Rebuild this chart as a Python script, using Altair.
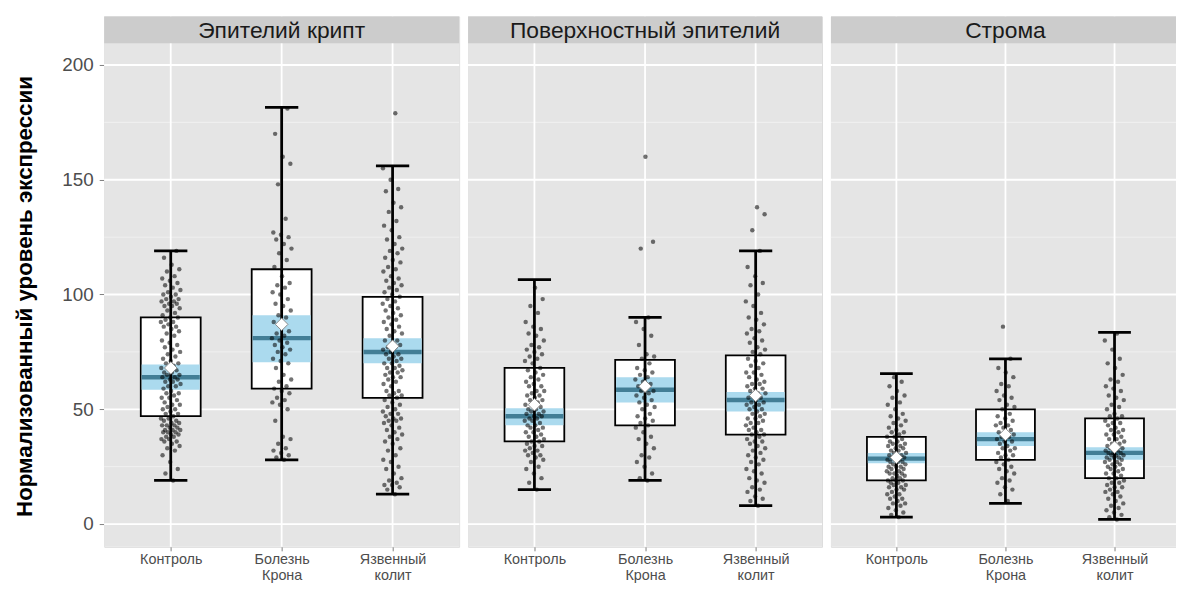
import altair as alt
import pandas as pd

PANELS = ["Эпителий крипт", "Поверхностный эпителий", "Строма"]
GROUPS = ["Контроль", "Болезнь\nКрона", "Язвенный\nколит"]
Y_TITLE = "Нормализованный уровень экспрессии"
Y_MAJOR = [0, 50, 100, 150, 200]
Y_MINOR = [25, 75, 125, 175]
X_POS = [1, 2, 3]

# box statistics per panel (order of GROUPS)
WHISK_LO = [[19, 28, 13], [15, 19, 8], [3, 9, 2]]
Q1 = [[47, 59, 55], [36, 43, 39], [19, 28, 20]]
MEDIAN = [[64, 81, 75], [47, 58.5, 54], [28.5, 37, 31]]
Q3 = [[90, 111, 99], [68, 71.5, 73.5], [38, 50, 46]]
WHISK_HI = [[119, 181.5, 156], [106.5, 90, 119], [65.5, 72, 83.5]]
CI_LO = [[58.5, 70.5, 70], [43, 53, 49], [26.5, 34, 28]]
CI_HI = [[69.5, 91, 81], [50.5, 64, 57.5], [31, 40, 33.5]]
MEAN = [[68, 87, 77.5], [52, 60, 56], [29, 39, 33.5]]

CRYPT_CTRL = [19, 22, 24, 27, 30, 32, 33, 34, 35, 36, 36, 37, 37, 38, 38, 39, 39, 40, 40, 40, 41, 41, 41,
              42, 42, 43, 43, 43, 44, 44, 45, 45, 46, 46, 47, 48, 48, 49, 50, 50, 51, 52, 52, 53, 54, 55,
              55, 56, 57, 57, 58, 59, 60, 60, 61, 62, 62, 63, 63, 64, 64, 65, 65, 66, 66, 67, 68, 68, 69,
              70, 70, 71, 72, 73, 74, 75, 76, 77, 78, 79, 80, 82, 83, 84, 85, 86, 86, 87, 88, 88, 89, 90,
              90, 91, 92, 93, 94, 95, 95, 96, 96, 97, 97, 98, 98, 99, 100, 100, 101, 102, 103, 104, 105,
              106, 107, 108, 110, 111, 113, 116, 119]
CRYPT_CROHN = [28, 29, 30, 31, 32, 33, 35, 37, 38, 45, 50, 52, 53, 54, 55, 57, 58, 59, 60, 62, 63, 65, 68,
               70, 71, 72, 74, 75, 76, 77, 78, 79, 80, 81, 82, 83, 84, 86, 88, 90, 91, 93, 95, 96, 98, 100,
               101, 103, 104, 105, 108, 112, 115, 118, 120, 122, 124, 125, 126, 127, 133, 148, 157, 160,
               170, 181]
CRYPT_UC = [13, 15, 16, 17, 17, 18, 19, 20, 22, 24, 25, 27, 28, 30, 32, 33, 35, 36, 37, 38, 39, 40, 41,
            42, 43, 44, 45, 45, 46, 46, 47, 48, 48, 49, 50, 51, 52, 53, 54, 55, 56, 56, 57, 58, 58, 60, 61,
            62, 63, 64, 64, 65, 66, 66, 67, 68, 68, 69, 70, 70, 71, 72, 72, 73, 74, 74, 75, 76, 77, 77, 78,
            79, 80, 80, 82, 83, 84, 85, 86, 87, 88, 89, 90, 91, 92, 93, 94, 95, 96, 97, 98, 99, 100, 101,
            102, 103, 104, 105, 106, 107, 108, 110, 111, 112, 114, 115, 116, 118, 119, 120, 122, 124, 125,
            128, 130, 132, 136, 138, 140, 145, 146, 150, 155, 179]
SURF_CTRL = [15, 18, 20, 22, 24, 25, 27, 28, 29, 30, 30, 31, 32, 32, 33, 34, 34, 35, 36, 36, 37, 38, 38,
             39, 40, 40, 41, 42, 42, 43, 43, 44, 45, 45, 46, 46, 47, 47, 48, 48, 49, 49, 50, 50, 51, 52, 52,
             53, 54, 54, 55, 56, 56, 57, 58, 58, 60, 60, 61, 62, 63, 64, 65, 66, 67, 68, 70, 71, 72, 73, 74,
             75, 76, 77, 78, 80, 82, 83, 85, 86, 88, 92, 95, 98, 103]
SURF_CROHN = [19, 20, 22, 25, 27, 29, 30, 33, 35, 37, 38, 40, 42, 43, 44, 45, 46, 47, 48, 50, 51, 52, 53,
              54, 55, 56, 57, 58, 58, 59, 60, 61, 62, 63, 64, 65, 66, 67, 68, 70, 72, 73, 74, 78, 82, 85,
              88, 90, 120, 123, 160]
SURF_UC = [8, 10, 11, 12, 14, 15, 16, 18, 19, 20, 22, 23, 24, 26, 27, 28, 29, 30, 31, 32, 33, 34, 35, 36,
           36, 37, 38, 39, 39, 40, 41, 41, 42, 43, 44, 44, 45, 46, 46, 47, 48, 48, 49, 50, 50, 51, 52, 52,
           53, 53, 54, 55, 55, 56, 57, 57, 58, 59, 59, 60, 61, 61, 62, 63, 64, 65, 66, 66, 68, 69, 70, 71,
           72, 74, 75, 76, 77, 79, 80, 81, 83, 84, 85, 87, 89, 90, 92, 95, 97, 100, 104, 105, 108, 112,
           119, 128, 135, 138]
STR_CTRL = [3, 4, 5, 6, 7, 8, 9, 9, 10, 11, 11, 12, 13, 13, 14, 15, 15, 16, 16, 17, 17, 18, 18, 19, 19,
            19, 20, 20, 21, 21, 22, 22, 22, 23, 23, 24, 24, 25, 25, 25, 26, 26, 27, 27, 27, 28, 28, 28, 29,
            29, 30, 30, 30, 31, 31, 32, 32, 33, 33, 34, 34, 35, 35, 36, 36, 37, 38, 38, 39, 40, 40, 41, 42,
            43, 44, 45, 46, 47, 48, 50, 52, 53, 55, 56, 58, 60, 62, 64]
STR_CROHN = [10, 13, 15, 16, 18, 19, 20, 22, 23, 24, 25, 26, 27, 28, 29, 30, 30, 31, 32, 33, 33, 34, 35,
             36, 36, 37, 38, 38, 39, 40, 40, 41, 42, 43, 43, 44, 45, 46, 47, 48, 50, 51, 52, 54, 55, 56,
             58, 60, 61, 64, 66, 68, 72, 86]
STR_UC = [2, 3, 4, 5, 6, 7, 8, 9, 10, 11, 12, 13, 14, 14, 15, 16, 16, 17, 18, 18, 19, 20, 20, 21, 22, 22,
          23, 24, 24, 25, 25, 26, 26, 27, 27, 28, 28, 29, 29, 29, 30, 30, 30, 31, 31, 31, 32, 32, 33, 33,
          34, 34, 35, 35, 36, 37, 37, 38, 39, 39, 40, 41, 41, 42, 43, 44, 44, 45, 46, 47, 47, 48, 50, 51,
          52, 54, 55, 56, 58, 59, 60, 62, 63, 65, 68, 70, 72, 76, 80, 83]
PTS = [[CRYPT_CTRL, CRYPT_CROHN, CRYPT_UC],
       [SURF_CTRL, SURF_CROHN, SURF_UC],
       [STR_CTRL, STR_CROHN, STR_UC]]

FONT = "Liberation Sans"
PANEL_W = [358, 357, 352]
PANEL_H = 535
STRIP_H = 27

box_rows = []
pt_rows = []
for p in range(3):
    for g in range(3):
        box_rows.append(dict(panel=PANELS[p], gi=X_POS[g], wlo=WHISK_LO[p][g], q1=Q1[p][g],
                             med=MEDIAN[p][g], q3=Q3[p][g], whi=WHISK_HI[p][g],
                             cilo=CI_LO[p][g], cihi=CI_HI[p][g], mean=MEAN[p][g]))
        for v in PTS[p][g]:
            pt_rows.append(dict(panel=PANELS[p], gi=X_POS[g], value=v))
box_df = pd.DataFrame(box_rows)
pt_df = pd.DataFrame(pt_rows)

# x axis label expression from GROUPS
parts = []
for i, lab in enumerate(GROUPS):
    segs = lab.split("\n")
    if len(segs) == 1:
        parts.append((X_POS[i], "'" + segs[0] + "'"))
    else:
        parts.append((X_POS[i], "[" + ", ".join("'" + s + "'" for s in segs) + "]"))
label_expr = ""
for idx, txt in parts[:-1]:
    label_expr += f"datum.value == {idx} ? {txt} : "
label_expr += parts[-1][1]

yscale = alt.Scale(domain=[-9.94, 221.17], nice=False, zero=False)
xscale = alt.Scale(domain=[0.4, 3.6], nice=False, zero=False)


def make_panel(p, w, first):
    if first:
        yaxis = alt.Axis(values=Y_MAJOR, grid=False, domain=False,
                         tickColor="#7F7F7F", tickSize=5, tickWidth=1,
                         labelFont=FONT, labelFontSize=19, labelColor="#4D4D4D", labelPadding=6,
                         title=Y_TITLE, titleFont=FONT, titleFontSize=22.5,
                         titleFontWeight="bold", titleColor="#000000", titleAngle=270,
                         titleX=-68, titleY=282, titleAlign="center", titleBaseline="bottom")
    else:
        yaxis = None
    xaxis = alt.Axis(values=X_POS, labelExpr=label_expr, grid=False, domain=False,
                     tickColor="#7F7F7F", tickSize=4,
                     labelFont=FONT, labelFontSize=14.5, labelColor="#4D4D4D", labelPadding=2,
                     labelLineHeight=16, title=None)

    def Y(f):
        return alt.Y(f, type="quantitative", scale=yscale, axis=yaxis)

    def X(f):
        return alt.X(f, type="quantitative", scale=xscale, axis=xaxis)

    boxes = alt.Chart(box_df[box_df.panel == PANELS[p]]).transform_calculate(
        xl="datum.gi - 0.27", xr="datum.gi + 0.27",
        cl="datum.gi - 0.262", cr="datum.gi + 0.262",
        kl="datum.gi - 0.15", kr="datum.gi + 0.15")
    pts = alt.Chart(pt_df[pt_df.panel == PANELS[p]]).transform_window(
        rn="row_number()", groupby=["gi"]).transform_calculate(
        jx="datum.gi + ((datum.rn * 0.6180339887) % 1 - 0.5) * 0.18")

    one = pd.DataFrame({"t": [PANELS[p]]})
    bg = alt.Chart(one).mark_rect(color="#E5E5E5").encode(
        x=alt.value(0), x2=alt.value(w), y=alt.value(0), y2=alt.value(PANEL_H))
    minor = alt.Chart(pd.DataFrame({"v": Y_MINOR})).mark_rule(
        color="#F2F2F2", strokeWidth=0.9).encode(y=Y("v"))
    major = alt.Chart(pd.DataFrame({"v": Y_MAJOR})).mark_rule(
        color="white", strokeWidth=1.8).encode(y=Y("v"))
    vert = alt.Chart(pd.DataFrame({"v": X_POS})).mark_rule(
        color="white", strokeWidth=1.8).encode(x=X("v"))

    box = boxes.mark_rect(fill="white", stroke="black", strokeWidth=1.8).encode(
        x=X("xl"), x2="xr", y=Y("q1"), y2="q3")
    ci = boxes.mark_rect(fill="#ABDAEE", stroke=None).encode(
        x=X("cl"), x2="cr", y=Y("cilo"), y2="cihi")
    med = boxes.mark_rule(color="#427E96", strokeWidth=4.5).encode(
        x=X("cl"), x2="cr", y=Y("med"))
    whisk = boxes.mark_rule(color="black", strokeWidth=2.8).encode(
        x=X("gi"), y=Y("wlo"), y2="whi")
    cap_lo = boxes.mark_rule(color="black", strokeWidth=2.8).encode(
        x=X("kl"), x2="kr", y=Y("wlo"))
    cap_hi = boxes.mark_rule(color="black", strokeWidth=2.8).encode(
        x=X("kl"), x2="kr", y=Y("whi"))
    dots = pts.mark_circle(color="black", opacity=0.55, size=20).encode(
        x=X("jx"), y=Y("value"))
    mean = boxes.mark_point(shape="diamond", filled=True, fill="white", stroke="#8A8A8A",
                            strokeWidth=1, size=160, opacity=1).encode(x=X("gi"), y=Y("mean"))

    strip = alt.Chart(one).mark_rect(color="#CCCCCC").encode(
        x=alt.value(0), x2=alt.value(w), y=alt.value(0), y2=alt.value(STRIP_H))
    strip_txt = alt.Chart(one).mark_text(
        font=FONT, fontSize=23, color="#1A1A1A", baseline="middle", align="center").encode(
        x=alt.value(w / 2), y=alt.value(STRIP_H / 2 + 1), text="t:N")

    return alt.layer(bg, minor, major, vert, box, ci, med, whisk, cap_lo, cap_hi, dots, mean,
                     strip, strip_txt).properties(width=w, height=PANEL_H)


chart = alt.hconcat(*[make_panel(p, PANEL_W[p], p == 0) for p in range(3)], spacing=5).properties(
    padding={"left": 5, "top": 4, "right": -6, "bottom": 0}
).configure_view(stroke=None).configure(background="white")

chart.save("out.html", embed_options={"renderer": "svg", "actions": False})
